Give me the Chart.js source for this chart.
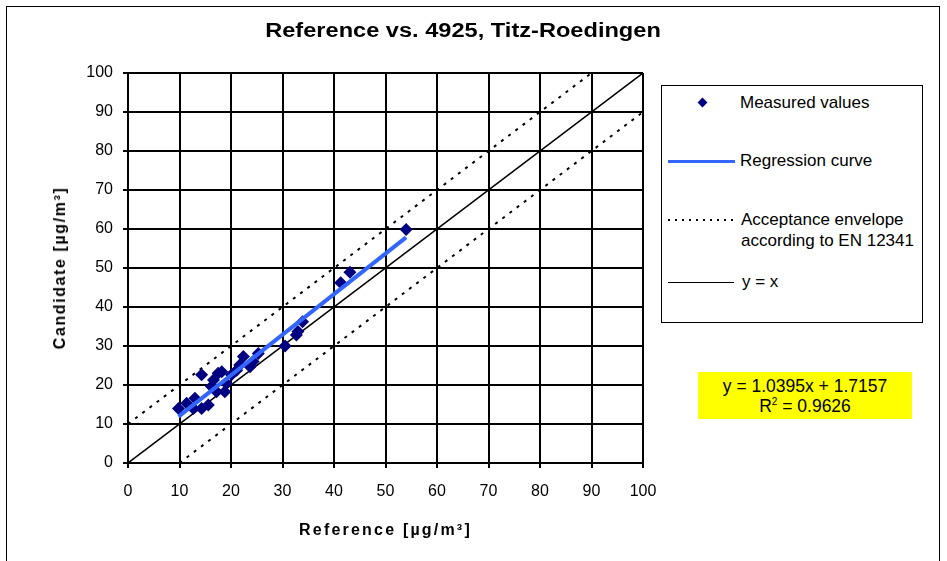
<!DOCTYPE html>
<html>
<head>
<meta charset="utf-8">
<script src="https://cdn.jsdelivr.net/npm/chart.js@4"></script>
<style>
  html, body { margin: 0; padding: 0; background: #fff; }
  body { width: 947px; height: 561px; position: relative; overflow: hidden; font-family: Arial, "Liberation Sans", sans-serif; }
  #frame { position: absolute; left: 6px; top: 6px; width: 934px; height: 620px; border: 1.5px solid #000; box-sizing: border-box; }
  #chart { position: absolute; left: 0; top: 0; }
  .title { position: absolute; left: 0; width: 926px; top: 19px; text-align: center; font-weight: bold; font-size: 20px; transform: scaleX(1.18); transform-origin: 463px 0; }
  .xtitle { position: absolute; left: 0; width: 771px; top: 521px; text-align: center; font-weight: bold; font-size: 16px; letter-spacing: 2.2px; }
  .ytitle { position: absolute; left: 60px; top: 268px; font-weight: bold; font-size: 16px; letter-spacing: 1.6px; white-space: nowrap; transform: translate(-50%, -50%) rotate(-90deg); }
  .legend { position: absolute; left: 661px; top: 85px; width: 262px; height: 238px; border: 1px solid #000; box-sizing: border-box; background: #fff; }
  .txt { position: absolute; font-size: 17px; line-height: 20px; white-space: nowrap; }
  .sym { position: absolute; }
  .dots { height: 2px; background: repeating-linear-gradient(to right, #000 0 2px, transparent 2px 7px); }
  .eq { position: absolute; left: 698px; top: 372px; width: 214px; height: 47px; background: #ffff00; text-align: center; font-size: 17.5px; line-height: 20px; padding-top: 4px; box-sizing: border-box; }
  .eq sup { font-size: 10px; vertical-align: 7px; line-height: 0; }
</style>
</head>
<body>
<div id="frame"></div>
<canvas id="chart" width="947" height="561"></canvas>
<div class="title">Reference vs. 4925, Titz-Roedingen</div>
<div class="xtitle">Reference [µg/m³]</div>
<div class="ytitle">Candidate [µg/m³]</div>

<!-- legend, positioned in page coordinates -->
<div class="legend"></div>
<div class="sym" style="left:699px;top:99px;width:7px;height:7px;background:#000080;transform:rotate(45deg);"></div>
<div class="txt" style="left:740px;top:93px;">Measured values</div>
<div class="sym" style="left:668px;top:160px;width:67px;border-top:3px solid #3366ff;"></div>
<div class="txt" style="left:740px;top:151px;">Regression curve</div>
<div class="sym dots" style="left:668px;top:219px;width:70px;"></div>
<div class="txt" style="left:741px;top:210px;">Acceptance envelope</div>
<div class="txt" style="left:741px;top:231px;">according to EN 12341</div>
<div class="sym" style="left:668px;top:282px;width:66px;border-top:1px solid #000;"></div>
<div class="txt" style="left:742px;top:272px;">y = x</div>

<div class="eq" id="eq"></div>

<script>
// measured pairs: reference vs candidate (µg/m³)
const refValues = [9.8, 11.4, 12.7, 13.0, 14.3, 14.3, 15.6, 16.2, 16.6, 17.2, 17.5, 18.2, 18.8, 19.1,
  20.1, 21.1, 21.7, 22.4, 23.7, 24.3, 25.3, 30.5, 32.7, 33.0, 33.9, 41.3, 43.1, 54.0];
const candValues = [14.0, 15.3, 14.0, 16.6, 14.0, 22.6, 14.9, 19.6, 21.3, 18.3, 23.0, 23.4, 18.3, 20.4,
  22.6, 23.8, 25.1, 27.3, 24.7, 26.0, 28.1, 30.0, 32.8, 33.7, 36.2, 46.2, 48.9, 59.9];

// regression result
const slope = 1.0395;
const intercept = 1.7157;
const rSquared = 0.9626;

// acceptance envelope and identity line end points
const upperEnvX = [0, 90];
const upperEnvY = [10, 100];
const lowerEnvX = [10, 100];
const lowerEnvY = [0, 90];
const identityX = [0, 100];
const identityY = [0, 100];

const axisTicks = [0, 10, 20, 30, 40, 50, 60, 70, 80, 90, 100];

const toPoints = (xs, ys) => xs.map((x, i) => ({ x: x, y: ys[i] }));

const xMin = Math.min(...refValues);
const xMax = Math.max(...refValues);
const regression = [xMin, xMax].map((x) => ({ x: x, y: slope * x + intercept }));

document.getElementById("eq").innerHTML =
  "y = " + slope.toFixed(4) + "x + " + intercept.toFixed(4) + "<br>R<sup>2</sup> = " + rSquared.toFixed(4);

const tickFont = { family: "Arial, 'Liberation Sans', sans-serif", size: 16 };

new Chart(document.getElementById("chart"), {
  type: "scatter",
  data: {
    datasets: [
      {
        label: "Regression curve",
        data: regression,
        showLine: true,
        borderColor: "#3366ff",
        borderWidth: 4,
        pointRadius: 0,
        order: 0,
      },
      {
        label: "Measured values",
        data: toPoints(refValues, candValues),
        pointStyle: "rectRot",
        pointRadius: 6.5,
        backgroundColor: "#000080",
        borderColor: "#000080",
        borderWidth: 0,
        order: 1,
      },
      {
        label: "Acceptance envelope (upper)",
        data: toPoints(upperEnvX, upperEnvY),
        showLine: true,
        borderColor: "#000",
        borderWidth: 2,
        borderDash: [3, 6],
        pointRadius: 0,
        order: 2,
      },
      {
        label: "Acceptance envelope (lower)",
        data: toPoints(lowerEnvX, lowerEnvY),
        showLine: true,
        borderColor: "#000",
        borderWidth: 2,
        borderDash: [3, 6],
        pointRadius: 0,
        order: 2,
      },
      {
        label: "y = x",
        data: toPoints(identityX, identityY),
        showLine: true,
        borderColor: "#000",
        borderWidth: 1.5,
        pointRadius: 0,
        order: 3,
      },
    ],
  },
  options: {
    responsive: false,
    animation: false,
    layout: { padding: { left: 0, top: 73, right: 304, bottom: 0 } },
    plugins: {
      legend: { display: false },
      tooltip: { enabled: false },
    },
    scales: {
      x: {
        type: "linear",
        min: 0,
        max: 100,
        afterBuildTicks: (scale) => { scale.ticks = axisTicks.map((v) => ({ value: v })); },
        afterFit: (scale) => { scale.height = 98; },
        ticks: { color: "#000", font: tickFont, padding: 14, maxRotation: 0 },
        grid: { color: "#000", lineWidth: 2, tickLength: 5 },
        border: { color: "#000", width: 2 },
      },
      y: {
        type: "linear",
        min: 0,
        max: 100,
        afterBuildTicks: (scale) => { scale.ticks = axisTicks.map((v) => ({ value: v })); },
        afterFit: (scale) => { scale.width = 128; },
        ticks: { color: "#000", font: tickFont, padding: 10 },
        grid: { color: "#000", lineWidth: 2, tickLength: 5 },
        border: { color: "#000", width: 2 },
      },
    },
  },
});
</script>
</body>
</html>
